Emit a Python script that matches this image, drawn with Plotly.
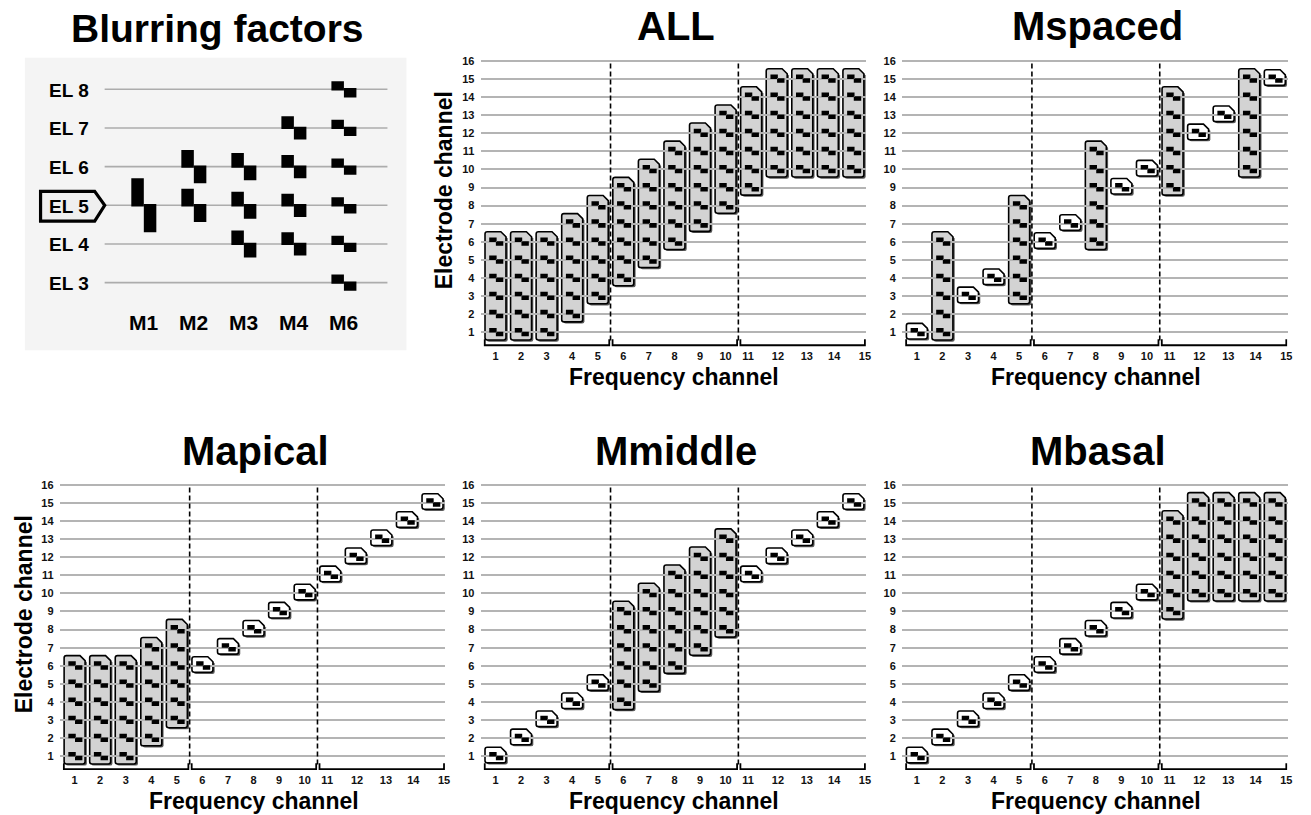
import plotly.graph_objects as go

W, H = 1311, 815
FONT = "Liberation Sans, Arial, Helvetica, sans-serif"

# ---------------- data ----------------
freq = list(range(1, 16))                      # frequency channels
all_lo = [1, 1, 1, 2, 3, 4, 5, 6, 7, 8, 9, 10, 10, 10, 10]     # lowest electrode (ALL blurring)
all_hi = [6, 6, 6, 7, 8, 9, 10, 11, 12, 13, 14, 15, 15, 15, 15]  # highest electrode (ALL blurring)
single_el = list(range(1, 16))                 # electrode used without blurring
all_blur = list(range(1, 16))
spaced_blur = [2, 5, 8, 11, 14]
apical_blur = [1, 2, 3, 4, 5]
middle_blur = [6, 7, 8, 9, 10]
basal_blur = [11, 12, 13, 14, 15]
group_lo = [1, 6, 11]
group_hi = [5, 10, 15]
divider_x = [5.5, 10.5]
elec_ticks = list(range(1, 17))
freq_tick_text = [str(f) for f in freq]
freq_tick_shift = [0, 0, 0, 0, 0, 0, 0, 0, 0, 0, -0.12, 0.05, 0.18, 0.25, 0.45]

blur_modes = ["M1", "M2", "M3", "M4", "M6"]
blur_active = [[5], [6, 5], [6, 5, 4], [7, 6, 5, 4], [8, 7, 6, 5, 4, 3]]
blur_spread = [0.70, 0.43, 0.35, 0.30, 0.21]
el_rows = [8, 7, 6, 5, 4, 3]
el_text = ["EL 8", "EL 7", "EL 6", "EL 5", "EL 4", "EL 3"]
stim_el = 5

# ---------------- layout helpers ----------------
def dx(a, b):
    return [a / W, b / W]

def dy(top, bottom):
    return [1 - bottom / H, 1 - top / H]

def px(x):
    return x / W

def py(y):
    return 1 - y / H

TOP = (55.2, 345.5)
BOT = (481.2, 771.5)
COL1 = (60, 447)
COL2 = (482.5, 869.5)
COL3 = (905.5, 1292.5)

panels = [
    # name, blurred channels, axis idx, xdom px, ydom px, y title
    ("ALL", all_blur, 2, COL2, TOP, True),
    ("Mspaced", spaced_blur, 3, COL3, TOP, False),
    ("Mapical", apical_blur, 4, COL1, BOT, True),
    ("Mmiddle", middle_blur, 5, COL2, BOT, False),
    ("Mbasal", basal_blur, 6, COL3, BOT, False),
]

fig = go.Figure()
shapes = []
annotations = []
layout_axes = {}

GRID = "#b4b4b4"
BOX_GRAY = "#d3d3d3"


def box_path(xc, lo, hi, single, ox=0.0, oy=0.0):
    hw = 0.41
    x0, x1 = xc - hw + ox, xc + hw + ox
    if single:
        y0, y1 = lo - 0.36 + oy, hi + 0.5 + oy
    else:
        y0, y1 = lo - 0.42 + oy, hi + 0.56 + oy
    cx, cy = 0.2, 0.28
    rx, ry = 0.09, 0.12
    return (f"M {x0 + rx},{y0} L {x1 - rx},{y0} Q {x1},{y0} {x1},{y0 + ry} "
            f"L {x1},{y1 - cy} L {x1 - cx},{y1} L {x0 + rx},{y1} "
            f"Q {x0},{y1} {x0},{y1 - ry} L {x0},{y0 + ry} Q {x0},{y0} {x0 + rx},{y0} Z")


def rect_sub(x0, x1, y0, y1):
    return f"M {x0},{y0} L {x1},{y0} L {x1},{y1} L {x0},{y1} Z "


MW, MH = 0.29, 0.25   # electrode mark size (data units)

for name, blur, k, xd, yd, ytitle in panels:
    xa, ya = f"x{k}", f"y{k}"
    layout_axes[f"xaxis{k}"] = dict(
        domain=dx(*xd), anchor=ya, range=[0.42, 15.5], showgrid=False, zeroline=False,
        showline=False, tickmode="array",
        tickvals=[f + s for f, s in zip(freq, freq_tick_shift)], ticktext=freq_tick_text,
        ticks="", tickfont=dict(family=FONT, size=11, color="#111", weight="bold"),
        fixedrange=True)
    layout_axes[f"yaxis{k}"] = dict(
        domain=dy(*yd), anchor=xa, range=[0.15, 16.1], showgrid=True, gridcolor=GRID,
        gridwidth=2, zeroline=False, showline=False, tickmode="array", tickvals=elec_ticks,
        ticks="outside", ticklen=3, tickcolor="rgba(0,0,0,0)",
        tickfont=dict(family=FONT, size=11, color="#111", weight="bold"), fixedrange=True)

    marks = ""
    for i, f in enumerate(freq):
        if f in blur:
            lo, hi, single = all_lo[i], all_hi[i], False
        else:
            lo = hi = single_el[i]
            single = True
        # soft drop shadow
        shapes.append(dict(type="path", xref=xa, yref=ya, layer="below",
                           path=box_path(f, lo, hi, single, 0.07, -0.09),
                           fillcolor="#5a5a5a", line=dict(width=0)))
        shapes.append(dict(type="path", xref=xa, yref=ya, layer="below",
                           path=box_path(f, lo, hi, single),
                           fillcolor="white" if single else BOX_GRAY,
                           line=dict(color="black", width=1.6)))
        for e in range(lo, hi + 1):
            cx1, cy1 = f - 0.10, e + 0.12
            cx2, cy2 = f + 0.16, e - 0.09
            marks += rect_sub(cx1 - MW / 2, cx1 + MW / 2, cy1 - MH / 2, cy1 + MH / 2)
            marks += rect_sub(cx2 - MW / 2, cx2 + MW / 2, cy2 - MH / 2, cy2 + MH / 2)
    shapes.append(dict(type="path", xref=xa, yref=ya, layer="above", path=marks.strip(),
                       fillcolor="black", line=dict(width=0)))

    # divider dashed lines
    vx, vy = [], []
    for d in divider_x:
        vx += [d, d, None]
        vy += [0.55, 16.0, None]
    fig.add_trace(go.Scatter(x=vx, y=vy, xaxis=xa, yaxis=ya, mode="lines",
                             line=dict(color="black", width=1.6, dash="5px,3px"),
                             hoverinfo="skip"))
    # brackets
    bx, by = [], []
    for a, b in zip(group_lo, group_hi):
        bx += [a - 0.42, a - 0.42, b + 0.45, b + 0.45, None]
        by += [0.62, 0.29, 0.29, 0.62, None]
    fig.add_trace(go.Scatter(x=bx, y=by, xaxis=xa, yaxis=ya, mode="lines",
                             line=dict(color="black", width=1.8), hoverinfo="skip"))

    # title
    cxp = (xd[0] + xd[1]) / 2 + 3
    ty = 22 if yd is TOP else 449
    annotations.append(dict(text=f"<b>{name}</b>", x=px(cxp), y=py(ty), xref="paper", yref="paper",
                            showarrow=False, xanchor="center", yanchor="middle",
                            font=dict(family=FONT, size=40, color="black")))
    # x title
    xty = 375 if yd is TOP else 801
    annotations.append(dict(text="<b>Frequency channel</b>", x=px(cxp - 2), y=py(xty), xref="paper",
                            yref="paper", showarrow=False, xanchor="center", yanchor="middle",
                            font=dict(family=FONT, size=23, color="black")))
    if ytitle:
        ytx = xd[0] - 36
        yty = (yd[0] + yd[1]) / 2 - 13
        annotations.append(dict(text="<b>Electrode channel</b>", x=px(ytx), y=py(yty), xref="paper",
                                yref="paper", showarrow=False, textangle=-90, xanchor="center",
                                yanchor="middle", font=dict(family=FONT, size=23, color="black")))

# ---------------- Blurring factors panel ----------------
layout_axes["xaxis"] = dict(domain=dx(25, 408), anchor="y", range=[-1.377, 6.25], visible=False,
                            fixedrange=True)
layout_axes["yaxis"] = dict(domain=dy(54, 348), anchor="x", range=[1.25, 8.816], visible=False,
                            fixedrange=True)
shapes.insert(0, dict(type="rect", xref="x domain", yref="y domain", x0=0, x1=1, y0=0, y1=1,
                      fillcolor="#f4f4f4", line=dict(width=0), layer="below"))
for e in el_rows:
    shapes.append(dict(type="line", xref="x", yref="y", x0=0.217, x1=5.87, y0=e, y1=e,
                       line=dict(color="#acacac", width=1.6), layer="below"))
rw = 0.25
for i, (m, act, h) in enumerate(zip(blur_modes, blur_active, blur_spread)):
    c = i + 1
    for e in act:
        shapes.append(dict(type="rect", xref="x", yref="y", x0=c - rw, x1=c, y0=e - 0.03, y1=e + h,
                           fillcolor="black", line=dict(width=0), layer="above"))
        shapes.append(dict(type="rect", xref="x", yref="y", x0=c, x1=c + rw, y0=e - h, y1=e + 0.03,
                           fillcolor="black", line=dict(width=0), layer="above"))
    annotations.append(dict(text=f"<b>{m}</b>", x=c, y=1.96, xref="x", yref="y", showarrow=False,
                            xanchor="center", yanchor="middle",
                            font=dict(family=FONT, size=21, color="black")))
# stimulated electrode pentagon
shapes.append(dict(type="path", xref="x", yref="y", layer="above",
                   path=f"M -1.064,{stim_el - 0.41} L 0.018,{stim_el - 0.41} L 0.218,{stim_el} "
                        f"L 0.018,{stim_el + 0.36} L -1.064,{stim_el + 0.36} Z",
                   fillcolor="#efefef", line=dict(color="black", width=3.2)))
for e, t in zip(el_rows, el_text):
    annotations.append(dict(text=f"<b>{t}</b>", x=-0.06, y=e - 0.02, xref="x", yref="y",
                            showarrow=False, xanchor="right", yanchor="middle",
                            font=dict(family=FONT, size=19, color="black")))
annotations.append(dict(text="<b>Blurring factors</b>", x=px(218), y=py(25), xref="paper",
                        yref="paper", showarrow=False, xanchor="center", yanchor="middle",
                        font=dict(family=FONT, size=39, color="black")))

fig.update_layout(width=W, height=H, margin=dict(l=0, r=0, t=0, b=0),
                  paper_bgcolor="white", plot_bgcolor="white", showlegend=False,
                  shapes=shapes, annotations=annotations, **layout_axes)
fig.write_html("out.html", config={"displayModeBar": False},
               post_script="document.body.style.margin='0';document.body.style.padding='0';"
                           "document.body.style.overflow='hidden';"
                           "var d=document.getElementById('{plot_id}');"
                           "d.style.position='absolute';d.style.left='0px';d.style.top='0px';")
